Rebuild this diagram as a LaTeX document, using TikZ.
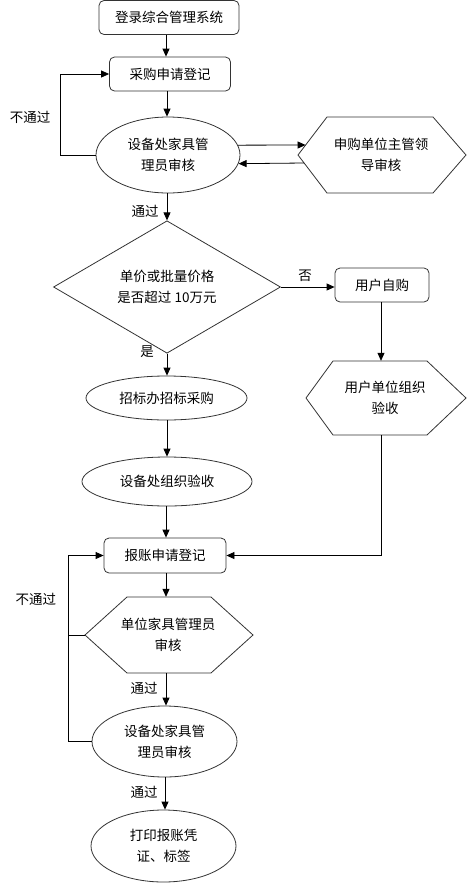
\documentclass[tikz,border=0pt]{standalone}
\usepackage{fontspec}
\newfontfamily\cjk{Noto Sans CJK SC}
\usetikzlibrary{arrows.meta,shapes.geometric,calc}
\begin{document}
\begin{tikzpicture}[x=1pt,y=-1pt,
  every node/.style={font=\cjk\fontsize{13.5}{21}\selectfont, align=center, inner sep=0pt, text=black},
  box/.style={draw=black!80, line width=0.8pt, rounded corners=5pt, minimum height=34pt},
  ell/.style={draw=black!80, line width=0.8pt, ellipse},
  hexline/.style={draw=black!80, line width=0.8pt},
  lbl/.style={font=\cjk\fontsize{13.5}{16}\selectfont},
  arr/.style={draw=black, line width=0.8pt, -{Triangle[length=8pt,width=7pt]}},
  ln/.style={draw=black, line width=0.8pt}]
\useasboundingbox (0,0) rectangle (468,884);
% nodes
\node[box, minimum width=140pt] (n1) at (169,17.5) {登录综合管理系统};
\node[box, minimum width=121pt] (n2) at (170,74) {采购申请登记};
\node[ell, minimum width=144pt, minimum height=76pt] (e3) at (168,155) {设备处家具管\\理员审核};
\draw[hexline] (298,155) -- (327,117) -- (433,117) -- (466,155) -- (433,193) -- (327,193) -- cycle;
\node[minimum width=168pt, minimum height=76pt] (h4) at (381,155) {申购单位主管领\\导审核};
\node[draw=black!80, line width=0.8pt, diamond, minimum width=227pt, minimum height=100pt] (d5) at (167,287) {单价或批量价格\\是否超过 10万元};
\node[box, minimum width=94pt] (n6) at (382,285) {用户自购};
\draw[hexline] (306,398) -- (333,361) -- (427,361) -- (466,398) -- (427,435) -- (333,435) -- cycle;
\node[minimum width=160pt, minimum height=74pt] (h7) at (385,398) {用户单位组织\\验收};
\node[ell, minimum width=161pt, minimum height=44pt] (e8) at (166.5,398) {招标办招标采购};
\node[ell, minimum width=170pt, minimum height=49pt] (e9) at (167,481.5) {设备处组织验收};
\node[box, minimum width=122pt, minimum height=35pt] (n10) at (165,555.5) {报账申请登记};
\draw[hexline] (85,635) -- (127,597) -- (211,597) -- (253,635) -- (211,673) -- (127,673) -- cycle;
\node[minimum width=168pt, minimum height=76pt] (h11) at (168,635) {单位家具管理员\\审核};
\node[ell, minimum width=145pt, minimum height=71pt] (e12) at (164.5,741.5) {设备处家具管\\理员审核};
\node[ell, minimum width=145pt, minimum height=72pt] (e13) at (163.5,846) {打印报账凭\\证、标签};
% coordinates
\coordinate (lp1) at (60,74);
\coordinate (lp2) at (68,555.5);
\coordinate (h4a) at (305.6,145);
\coordinate (h4b) at (304,163);
% connectors
\draw[arr] (n1.south -| 166,0) -- (n2.north -| 166,0);
\draw[arr] (n2.south -| 167,0) -- (e3.north -| 167,0);
\draw[ln] (e3.west) -| (lp1);
\draw[arr] (lp1) -- (n2.west);
\draw[arr] (e3.8) -- (h4a);
\draw[arr] (h4b) -- (e3.-7);
\draw[arr] (e3.south -| 167,0) -- (d5.north);
\draw[arr] (d5.east) -- (n6.west |- d5.east);
\draw[arr] (n6.south -| 381,0) -- (h7.north -| 381,0);
\draw[arr] (d5.south) -- (e8.north -| d5.south);
\draw[arr] (e8.south -| 167,0) -- (e9.north -| 167,0);
\draw[arr] (e9.south -| 166,0) -- (n10.north -| 166,0);
\draw[arr] (h7.south -| 381,0) |- (n10.east);
\draw[arr] (n10.south -| 166,0) -- (h11.north -| 166,0);
\draw[arr] (h11.south -| 166,0) -- (e12.north -| 166,0);
\draw[arr] (e12.south -| 165,0) -- (e13.north -| 165,0);
\draw[ln] (85,635) -- (h11.west -| lp2);
\draw[ln] (e12.west) -| (lp2);
\draw[arr] (lp2) -- (n10.west);
% labels
\node[lbl] (l1) at (30,117) {不通过};
\node[lbl] (l2) at (145,211) {通过};
\node[lbl] (l3) at (305,276) {否};
\node[lbl] (l4) at (147,352) {是};
\node[lbl] (l5) at (36,599) {不通过};
\node[lbl] (l6) at (144,688) {通过};
\node[lbl] (l7) at (144,792) {通过};
\end{tikzpicture}
\end{document}
